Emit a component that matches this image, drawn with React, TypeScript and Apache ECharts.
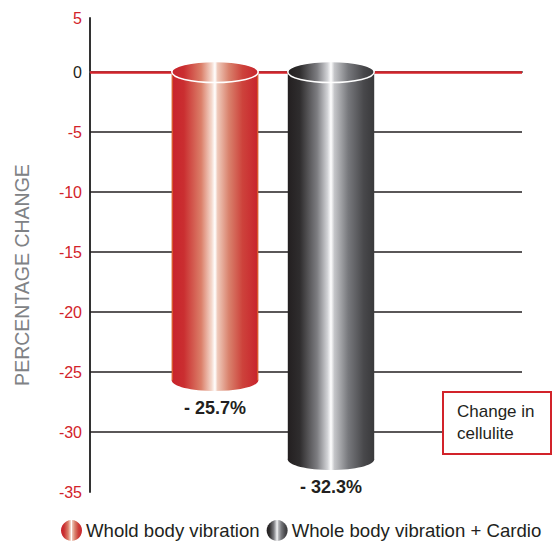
import React, { useEffect, useRef } from 'react';
import * as echarts from 'echarts';

const categories = ['Whold body vibration', 'Whole body vibration + Cardio'];
const values = [-25.7, -32.3];
const valueLabels = ['- 25.7%', '- 32.3%'];
const gridValues = [-30, -25, -20, -15, -10, -5];
const zeroValue = 0;
const yMin = -35;
const yMax = 4.5;
const yTopLabel = '5';
const yInterval = 5;
const axisTitle = 'PERCENTAGE CHANGE';
const noteText = 'Change in\ncellulite';

const RED = '#d2232a';
const DARK = '#231f20';
const FONT = '"Liberation Sans", Arial, Helvetica, sans-serif';

const redStops = [
  { offset: 0, color: '#c8232c' },
  { offset: 0.14, color: '#ca2e30' },
  { offset: 0.34, color: '#db7f69' },
  { offset: 0.46, color: '#f4d8cc' },
  { offset: 0.5, color: '#ffffff' },
  { offset: 0.53, color: '#efc9ba' },
  { offset: 0.66, color: '#d9826d' },
  { offset: 0.82, color: '#cd423b' },
  { offset: 1, color: '#c8232c' },
];
const darkStops = [
  { offset: 0, color: '#231f20' },
  { offset: 0.14, color: '#2f2d2e' },
  { offset: 0.34, color: '#7d7d81' },
  { offset: 0.46, color: '#d2d3d6' },
  { offset: 0.5, color: '#ffffff' },
  { offset: 0.54, color: '#c4c5c8' },
  { offset: 0.7, color: '#77787c' },
  { offset: 0.88, color: '#48484b' },
  { offset: 1, color: '#39393b' },
];
const palettes = [
  { stops: redStops, edge: '#de6a2c' },
  { stops: darkStops, edge: '' },
];

const grad = (stops: { offset: number; color: string }[]) =>
  new echarts.graphic.LinearGradient(0, 0, 1, 0, stops);

function makeRender(i: number) {
  return (params: any, api: any) => {
    const idx = api.value(0);
    const v = api.value(1);
    const top = api.coord([idx, zeroValue]);
    const bot = api.coord([idx, v]);
    const w = api.size([1, 0])[0] * 0.745;
    const rx = w / 2;
    const ry = 10.5;
    const cx = top[0];
    const pal = palettes[i];
    const children: any[] = [
      {
        type: 'rect',
        shape: { x: cx - rx, y: top[1], width: w, height: bot[1] - top[1] },
        style: { fill: grad(pal.stops) },
      },
      {
        type: 'ellipse',
        shape: { cx, cy: bot[1], rx, ry },
        style: { fill: grad(pal.stops) },
      },
    ];
    if (pal.edge) {
      children.push(
        { type: 'line', shape: { x1: cx - rx + 0.5, y1: top[1], x2: cx - rx + 0.5, y2: bot[1] }, style: { stroke: pal.edge, lineWidth: 1 } },
        { type: 'line', shape: { x1: cx + rx - 0.5, y1: top[1], x2: cx + rx - 0.5, y2: bot[1] }, style: { stroke: pal.edge, lineWidth: 1 } }
      );
    }
    children.push(
      {
        type: 'ellipse',
        shape: { cx, cy: top[1], rx, ry },
        style: { fill: grad(pal.stops), stroke: '#ffffff', lineWidth: 1.5 },
      },
      {
        type: 'text',
        style: {
          text: valueLabels[i],
          x: cx,
          y: bot[1] + ry + 8,
          align: 'center',
          verticalAlign: 'top',
          fill: DARK,
          font: 'bold 18px ' + FONT,
        },
      }
    );
    return { type: 'group', children };
  };
}

export default function App() {
  const ref = useRef<HTMLDivElement>(null);
  useEffect(() => {
    if (!ref.current) return;
    const chart = echarts.init(ref.current, undefined, { renderer: 'svg' });
    const option: any = {
      animation: false,
      backgroundColor: '#ffffff',
      grid: [
        { left: 90, right: 31, top: 18, bottom: 50 },
        { left: 157, right: 164, top: 18, bottom: 50 },
      ],
      xAxis: [
        {
          type: 'value',
          gridIndex: 0,
          min: 0,
          max: 1,
          axisLine: { show: true, lineStyle: { color: '#58595b', width: 2 } },
          axisTick: { show: false },
          axisLabel: { show: false },
          splitLine: { show: false },
        },
        {
          type: 'category',
          gridIndex: 1,
          data: categories,
          show: false,
        },
      ],
      yAxis: [
        {
          type: 'value',
          gridIndex: 0,
          min: yMin,
          max: yMax,
          interval: yInterval,
          axisLine: { show: true, lineStyle: { color: '#333333', width: 2 } },
          axisTick: { show: false },
          splitLine: { show: false },
          axisLabel: {
            margin: 8,
            fontFamily: FONT,
            fontSize: 16,
            color: (v: any) => (Number(v) === 0 ? DARK : RED),
            formatter: (v: number) => (v === yMax ? yTopLabel : String(v)),
          },
        },
        {
          type: 'value',
          gridIndex: 1,
          min: yMin,
          max: yMax,
          interval: yInterval,
          show: false,
        },
      ],
      legend: {
        left: 61,
        top: 520,
        padding: 0,
        itemWidth: 21,
        itemHeight: 21,
        itemGap: 7,
        textStyle: { fontFamily: FONT, fontSize: 18.6, color: DARK, padding: [0, 0, 0, -1] },
        data: categories.map((c, i) => ({
          name: c,
          icon: 'circle',
          itemStyle: { color: grad(palettes[i].stops) },
        })),
      },
      series: [
        {
          type: 'line',
          xAxisIndex: 0,
          yAxisIndex: 0,
          data: [],
          silent: true,
          markLine: {
            silent: true,
            symbol: 'none',
            label: { show: false },
            data: [
              ...gridValues.map((v) => ({ yAxis: v, lineStyle: { color: DARK, width: 1.5, type: 'solid' } })),
              { yAxis: zeroValue, lineStyle: { color: RED, width: 2.5, type: 'solid' } },
            ],
          },
        },
        ...categories.map((c, i) => ({
          name: c,
          type: 'custom',
          xAxisIndex: 1,
          yAxisIndex: 1,
          itemStyle: { color: grad(palettes[i].stops) },
          encode: { x: 0, y: 1 },
          data: [[c, values[i]]],
          renderItem: makeRender(i),
          z: 5,
        })),
      ],
      graphic: [
        {
          type: 'text',
          x: 22,
          y: 275,
          rotation: Math.PI / 2,
          z: 100,
          style: {
            text: axisTitle,
            align: 'center',
            verticalAlign: 'middle',
            fill: '#808285',
            font: '19.5px ' + FONT,
          },
        },
        {
          type: 'rect',
          z: 100,
          shape: { x: 443, y: 392, width: 108, height: 62 },
          style: { fill: '#ffffff', stroke: RED, lineWidth: 2 },
        },
        {
          type: 'text',
          z: 101,
          x: 457,
          y: 400,
          style: {
            text: noteText,
            fill: DARK,
            font: '17px ' + FONT,
            lineHeight: 22,
            align: 'left',
            verticalAlign: 'top',
          },
        },
      ],
    };
    chart.setOption(option);
    return () => chart.dispose();
  }, []);
  return (
    <div
      ref={ref}
      style={{ position: 'fixed', left: 0, top: 0, width: 553, height: 542 }}
    />
  );
}
